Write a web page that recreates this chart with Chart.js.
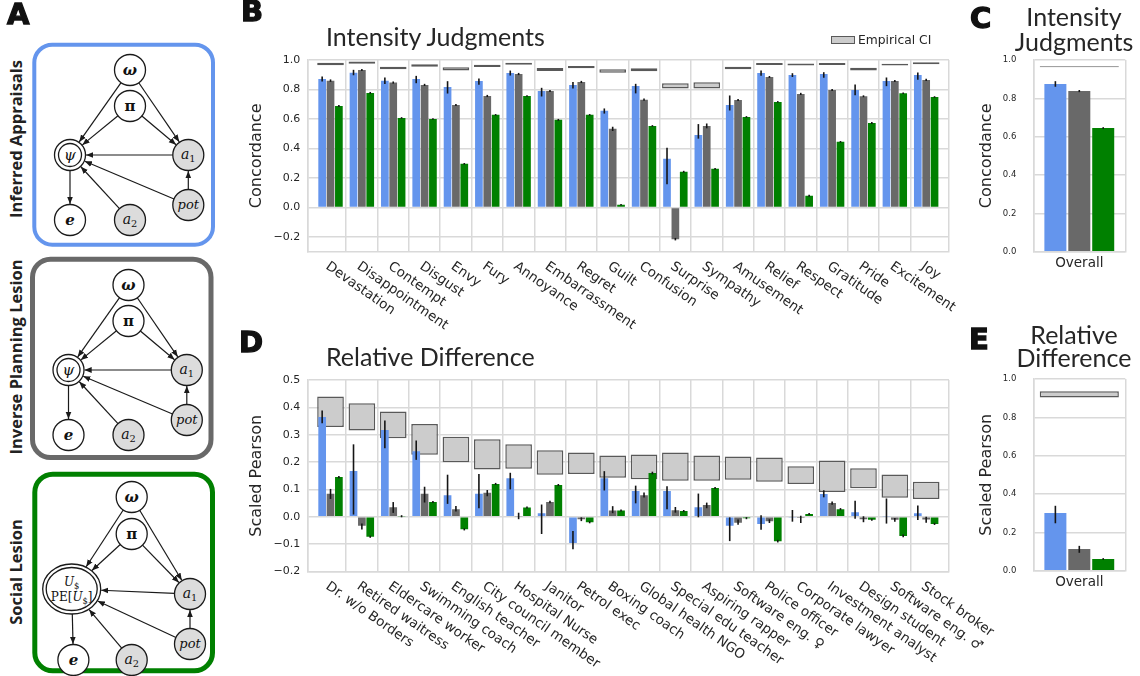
<!DOCTYPE html>
<html>
<head>
<meta charset="utf-8">
<script src="https://cdn.jsdelivr.net/npm/chart.js@4.4.1/dist/chart.umd.min.js"></script>
<style>
  body { margin: 0; background: #fff; }
  #page { position: relative; width: 1140px; height: 676px; overflow: hidden; color: #262626; font-family: "DejaVu Sans", sans-serif; }
  canvas, svg { position: absolute; left: 0; top: 0; }
  .letter { position: absolute; font: bold 29px "DejaVu Sans"; color: #111; line-height: 29px; -webkit-text-stroke: 1.3px #111; }
  .title { position: absolute; font: 400 25px Lato, sans-serif; color: #262626; white-space: nowrap; }
  .legend { position: absolute; left: 831px; top: 33px; font: 12.3px "DejaVu Sans"; color: #262626; display: flex; align-items: center; }
  .legend span.box { display: inline-block; width: 22px; height: 6px; background: #cccccc; border: 1.5px solid #595959; margin-right: 3px; }
</style>
</head>
<body>
<div id="page">
  <svg id="models" width="240" height="676"></svg>
  <canvas id="chartB" width="1140" height="676"></canvas>
  <canvas id="chartC" width="1140" height="676"></canvas>
  <canvas id="chartD" width="1140" height="676"></canvas>
  <canvas id="chartE" width="1140" height="676"></canvas>

  <div class="letter" style="left:7px; top:0px;">A</div>
  <div class="letter" style="left:241px; top:-3px;">B</div>
  <div class="letter" style="left:970px; top:4px;">C</div>
  <div class="letter" style="left:239px; top:328px;">D</div>
  <div class="letter" style="left:969px; top:325px;">E</div>

  <div class="title" style="left:326px; top:23.7px; line-height:25px;">Intensity Judgments</div>
  <div class="title" style="left:326px; top:343.7px; line-height:25px;">Relative Difference</div>
  <div class="title" style="left:1004px; top:4.2px; width:140px; text-align:center; line-height:24.7px;">Intensity<br>Judgments</div>
  <div class="title" style="left:1004px; top:323px; width:140px; text-align:center; line-height:22.5px;">Relative<br>Difference</div>

  <div class="legend"><span class="box"></span>Empirical CI</div>
</div>

<script>
// ---- data: intensity judgments (panel B / C) ----
const emotions = ["Devastation", "Disappointment", "Contempt", "Disgust", "Envy", "Fury",
  "Annoyance", "Embarrassment", "Regret", "Guilt", "Confusion", "Surprise", "Sympathy",
  "Amusement", "Relief", "Respect", "Gratitude", "Pride", "Excitement", "Joy"];

const intensityFull = [0.871, 0.914, 0.860, 0.871, 0.817, 0.858, 0.912, 0.790, 0.831, 0.655,
  0.824, 0.330, 0.492, 0.695, 0.912, 0.898, 0.905, 0.797, 0.858, 0.898];
const intensityInvPlan = [0.860, 0.932, 0.847, 0.831, 0.695, 0.756, 0.905, 0.790, 0.851, 0.533,
  0.731, -0.215, 0.553, 0.729, 0.885, 0.770, 0.797, 0.754, 0.858, 0.865];
const intensitySocial = [0.688, 0.777, 0.607, 0.600, 0.296, 0.628, 0.756, 0.594, 0.628, 0.018,
  0.553, 0.242, 0.262, 0.614, 0.716, 0.079, 0.445, 0.573, 0.774, 0.749];
const intensityCI = [[0.964, 0.982], [0.975, 0.989], [0.937, 0.955], [0.955, 0.971], [0.928, 0.950],
  [0.953, 0.968], [0.968, 0.982], [0.926, 0.946], [0.944, 0.959], [0.914, 0.937], [0.923, 0.944],
  [0.806, 0.842], [0.806, 0.849], [0.937, 0.955], [0.966, 0.980], [0.962, 0.977], [0.966, 0.980],
  [0.928, 0.948], [0.962, 0.975], [0.971, 0.984]];

const intensityFullErr = [[0.858, 0.884], [0.900, 0.930], [0.841, 0.878], [0.846, 0.889], [0.776, 0.853],
  [0.835, 0.871], [0.898, 0.925], [0.756, 0.808], [0.810, 0.848], [0.640, 0.668], [0.777, 0.835],
  [0.160, 0.402], [0.470, 0.562], [0.661, 0.756], [0.896, 0.925], [0.888, 0.907], [0.883, 0.914],
  [0.765, 0.831], [0.826, 0.878], [0.869, 0.912]];
const intensityInvPlanErr = [[0.855, 0.865], [0.929, 0.935], [0.843, 0.851], [0.827, 0.835], [0.691, 0.699],
  [0.752, 0.760], [0.901, 0.909], [0.786, 0.794], [0.847, 0.855], [0.522, 0.544], [0.727, 0.735],
  [-0.220, -0.210], [0.540, 0.566], [0.726, 0.732], [0.882, 0.888], [0.766, 0.774], [0.794, 0.800],
  [0.751, 0.757], [0.855, 0.861], [0.861, 0.869]];
const intensitySocialErr = [[0.685, 0.691], [0.774, 0.780], [0.605, 0.609], [0.598, 0.602], [0.294, 0.298],
  [0.626, 0.630], [0.754, 0.758], [0.591, 0.597], [0.626, 0.630], [0.016, 0.020], [0.551, 0.555],
  [0.239, 0.245], [0.259, 0.265], [0.612, 0.616], [0.714, 0.718], [0.076, 0.082], [0.443, 0.447],
  [0.570, 0.576], [0.772, 0.776], [0.747, 0.751]];

const overallLabels = ["Overall"];
const intensityOverall = [0.875, 0.838, 0.645];
const intensityOverallErr = [[0.863, 0.887], [0.835, 0.841], [0.643, 0.647]];
const intensityOverallCI = [0.962, 0.968];

// ---- data: relative difference (panel D / E) ----
const occupations = ["Dr. w/o Borders", "Retired waitress", "Eldercare worker", "Swimming coach",
  "English teacher", "City council member", "Hospital Nurse", "Janitor", "Petrol exec", "Boxing coach",
  "Global health NGO", "Special edu teacher", "Aspiring rapper", "Software eng. \u2640", "Police officer",
  "Corporate lawyer", "Investment analyst", "Design student", "Software eng. \u2642", "Stock broker"];

const relFull = [0.365, 0.167, 0.317, 0.240, 0.079, 0.084, 0.141, 0.013, -0.096, 0.141,
  0.094, 0.094, 0.035, -0.033, -0.026, -0.002, 0.083, 0.017, 0.002, 0.013];
const relInvPlan = [0.084, -0.033, 0.035, 0.084, 0.028, 0.088, 0.002, 0.054, -0.009, 0.023,
  0.079, 0.024, 0.043, -0.022, -0.016, -0.004, 0.050, -0.009, -0.011, -0.010];
const relSocial = [0.145, -0.073, 0.002, 0.054, -0.046, 0.120, 0.034, 0.116, -0.020, 0.023,
  0.160, 0.021, 0.105, -0.005, -0.089, 0.010, 0.028, -0.011, -0.070, -0.026];
const relCI = [[0.328, 0.440], [0.315, 0.415], [0.287, 0.385], [0.227, 0.339], [0.199, 0.293],
  [0.173, 0.283], [0.176, 0.265], [0.154, 0.243], [0.156, 0.235], [0.143, 0.224], [0.137, 0.228],
  [0.132, 0.235], [0.132, 0.224], [0.135, 0.220], [0.128, 0.217], [0.120, 0.185], [0.091, 0.206],
  [0.104, 0.177], [0.070, 0.155], [0.065, 0.128]];

const relFullErr = [[0.344, 0.387], [0.010, 0.263], [0.252, 0.350], [0.210, 0.277], [0.049, 0.152],
  [0.033, 0.155], [0.102, 0.159], [-0.061, 0.043], [-0.117, -0.054], [0.098, 0.165], [0.051, 0.112],
  [0.029, 0.110], [0.000, 0.083], [-0.087, -0.004], [-0.046, 0.004], [-0.016, 0.023], [0.073, 0.095],
  [-0.005, 0.057], [-0.023, 0.065], [-0.010, 0.039]];
const relInvPlanErr = [[0.067, 0.100], [-0.045, -0.026], [0.016, 0.052], [0.054, 0.108], [0.021, 0.038],
  [0.077, 0.096], [-0.007, 0.013], [0.051, 0.057], [-0.014, -0.004], [0.015, 0.037], [0.072, 0.087],
  [0.017, 0.034], [0.033, 0.050], [-0.027, -0.012], [-0.021, -0.011], [-0.021, 0.002], [0.046, 0.054],
  [-0.018, 0.000], [-0.016, -0.006], [-0.020, -0.002]];
const relSocialErr = [[0.143, 0.147], [-0.075, -0.071], [0.000, 0.004], [0.052, 0.056], [-0.048, -0.044],
  [0.118, 0.122], [0.032, 0.036], [0.114, 0.118], [-0.022, -0.018], [0.021, 0.025], [0.157, 0.163],
  [0.019, 0.023], [0.103, 0.107], [-0.007, -0.003], [-0.092, -0.086], [0.008, 0.012], [0.026, 0.030],
  [-0.013, -0.009], [-0.073, -0.067], [-0.028, -0.024]];

const relOverall = [0.301, 0.113, 0.061];
const relOverallErr = [[0.250, 0.336], [0.096, 0.127], [0.059, 0.063]];
const relOverallCI = [0.903, 0.936];

const yTicksB = [-0.2, 0.0, 0.2, 0.4, 0.6, 0.8, 1.0];
const yTicksD = [-0.2, -0.1, 0.0, 0.1, 0.2, 0.3, 0.4, 0.5];
const yTicksOverall = [0.0, 0.2, 0.4, 0.6, 0.8, 1.0];

// ---- styles ----
const BLUE = "#6495ED", GRAY = "#696969", GREEN = "#008000";
const GRID = "#d9d9d9";
const TEXT = "#262626";

const fmt = v => (v < 0 ? "\u2212" : "") + Math.abs(v).toFixed(1);

// error bars drawn on top of every bar that carries them
const errorBars = {
  id: "errorBars",
  afterDatasetsDraw(chart) {
    const ctx = chart.ctx, y = chart.scales.y;
    ctx.save();
    ctx.strokeStyle = "#151515";
    ctx.lineWidth = 1.6;
    chart.data.datasets.forEach((ds, di) => {
      if (!ds.errorBars) return;
      chart.getDatasetMeta(di).data.forEach((bar, i) => {
        const [lo, hi] = ds.errorBars[i];
        ctx.beginPath();
        ctx.moveTo(bar.x, y.getPixelForValue(lo) + 0.5);
        ctx.lineTo(bar.x, y.getPixelForValue(hi) - 0.5);
        ctx.stroke();
      });
    });
    ctx.restore();
  }
};

// rotated category labels hanging under the plot
const slantedLabels = {
  id: "slantedLabels",
  afterDraw(chart, args, opts) {
    if (!opts.labels) return;
    const {ctx, chartArea, scales} = chart;
    ctx.save();
    ctx.font = '13.5px "DejaVu Sans"';
    ctx.fillStyle = TEXT;
    ctx.textAlign = "left";
    ctx.textBaseline = "alphabetic";
    opts.labels.forEach((txt, i) => {
      const x = scales.x.getPixelForValue(i);
      ctx.save();
      ctx.translate(x - 5.6, chartArea.bottom + 16.4);
      ctx.rotate(35 * Math.PI / 180);
      ctx.fillText(txt, 0, 0);
      ctx.restore();
    });
    ctx.restore();
  }
};

function seriesSet(values, errs, color) {
  return {
    data: values.map((v, i) => ({x: i, y: v})),
    errorBars: errs,
    backgroundColor: color,
    borderWidth: 0,
    categoryPercentage: 0.8,
    barPercentage: 0.92,
    order: 0
  };
}

function ciSet(ranges) {
  return {
    data: ranges.map((r, i) => ({x: i, y: r})),
    backgroundColor: "#cccccc",
    borderColor: "#595959",
    borderWidth: 1.5,
    borderSkipped: false,
    grouped: false,
    categoryPercentage: 0.85,
    barPercentage: 1,
    order: 5
  };
}

function yAxis(min, max, ticks, title, width, tickFont, tickPad) {
  return {
    min: min, max: max,
    afterBuildTicks: s => { s.ticks = ticks.map(v => ({value: v})); },
    afterFit: s => { s.width = width; },
    ticks: {callback: v => fmt(v), font: {family: "DejaVu Sans", size: tickFont}, color: TEXT, padding: tickPad},
    grid: {color: GRID, lineWidth: 1.5, drawTicks: false},
    border: {color: GRID, width: 1.5},
    title: {display: true, text: title, font: {family: "DejaVu Sans", size: 16}, color: TEXT, padding: 0}
  };
}

// wide per-category panel (B and D)
function wideChart(id, labels, series, ci, yMin, yMax, yTicks, yTitle, top, bottom) {
  const xMin = -0.728, xMax = labels.length - 1 + 0.728;
  const bounds = [xMin];
  for (let i = 0; i < labels.length - 1; i++) bounds.push(i + 0.5);
  bounds.push(xMax);
  return new Chart(document.getElementById(id), {
    type: "bar",
    data: {
      datasets: [
        seriesSet(series[0][0], series[0][1], BLUE),
        seriesSet(series[1][0], series[1][1], GRAY),
        seriesSet(series[2][0], series[2][1], GREEN),
        ciSet(ci)
      ]
    },
    options: {
      responsive: false,
      animation: false,
      layout: {padding: {left: 307.7 - 60, right: 1140 - 949, top: top, bottom: 676 - bottom}},
      plugins: {legend: {display: false}, tooltip: {enabled: false}, slantedLabels: {labels: labels}},
      scales: {
        x: {
          type: "linear", min: xMin, max: xMax, offset: false,
          afterBuildTicks: s => { s.ticks = bounds.map(v => ({value: v})); },
          afterFit: s => { s.height = 0; },
          ticks: {display: false},
          grid: {color: GRID, lineWidth: 1.5, drawTicks: false, offset: false},
          border: {color: GRID, width: 1.5}
        },
        y: yAxis(yMin, yMax, yTicks, yTitle, 60, 11, 7.5)
      }
    },
    plugins: [errorBars, slantedLabels]
  });
}

// single "Overall" panel (C and E)
function overallChart(id, values, errs, ci, yTitle, top, bottom) {
  const colors = [BLUE, GRAY, GREEN];
  const sets = values.map((v, k) => ({
    data: [v], errorBars: [errs[k]], backgroundColor: colors[k], borderWidth: 0,
    categoryPercentage: 0.78, barPercentage: 0.92, order: 0
  }));
  sets.push({
    data: [ci], backgroundColor: "#cccccc", borderColor: "#595959", borderWidth: 1.5,
    borderSkipped: false, grouped: false, categoryPercentage: 0.86, barPercentage: 1, order: 5
  });
  return new Chart(document.getElementById(id), {
    type: "bar",
    data: {labels: overallLabels, datasets: sets},
    options: {
      responsive: false,
      animation: false,
      layout: {padding: {left: 1033.3 - 56.3, right: 1140 - 1125.3, top: top, bottom: 676 - bottom - 30}},
      plugins: {legend: {display: false}, tooltip: {enabled: false}},
      scales: {
        x: {
          afterFit: s => { s.height = 30; },
          ticks: {font: {family: "DejaVu Sans", size: 13.5}, color: TEXT, padding: 4},
          grid: {color: GRID, lineWidth: 1.5, drawTicks: false},
          border: {color: GRID, width: 1.5}
        },
        y: yAxis(0, 1, yTicksOverall, yTitle, 56.3, 8.5, 17)
      }
    },
    plugins: [errorBars]
  });
}

wideChart("chartB", emotions,
  [[intensityFull, intensityFullErr], [intensityInvPlan, intensityInvPlanErr], [intensitySocial, intensitySocialErr]],
  intensityCI, -0.3, 1.0, yTicksB, "Concordance", 60, 251.7);

wideChart("chartD", occupations,
  [[relFull, relFullErr], [relInvPlan, relInvPlanErr], [relSocial, relSocialErr]],
  relCI, -0.2, 0.5, yTicksD, "Scaled Pearson", 380, 571.5);

overallChart("chartC", intensityOverall, intensityOverallErr, intensityOverallCI, "Concordance", 60, 251.7);
overallChart("chartE", relOverall, relOverallErr, relOverallCI, "Scaled Pearson", 379, 570.7);

// ---- panel A: graphical models ----
const NS = "http://www.w3.org/2000/svg";
const svg = document.getElementById("models");
function el(tag, attrs, parent) {
  const e = document.createElementNS(NS, tag);
  for (const k in attrs) e.setAttribute(k, attrs[k]);
  (parent || svg).appendChild(e);
  return e;
}
const defs = el("defs", {});
const mk = el("marker", {id: "ah", viewBox: "0 0 10 10", refX: "10", refY: "5",
  markerWidth: "6", markerHeight: "6", orient: "auto"}, defs);
el("path", {d: "M0,1 L10,5 L0,9 z", fill: "#1a1a1a"}, mk);

function label(x, y, parts, size) {
  const t = el("text", {x: x, y: y + size * 0.33, "text-anchor": "middle",
    "font-family": "DejaVu Serif, Liberation Serif, serif", "font-size": size, fill: "#111"});
  parts.forEach(p => {
    const s = el("tspan", {fill: "#111"}, t);
    if (p.italic) s.setAttribute("font-style", "italic");
    if (p.bold) s.setAttribute("font-weight", "bold");
    if (p.sub) { s.setAttribute("font-size", size * 0.7); s.setAttribute("dy", size * 0.25); }
    if (p.up) s.setAttribute("dy", -size * 0.25);
    s.textContent = p.t;
  });
  return t;
}

function model(o, box, centerKind) {
  el("rect", {x: box.x, y: box.y, width: box.w, height: box.h, rx: 18, fill: "#fff",
    stroke: box.color, "stroke-width": box.sw});
  const R = 15.5;
  const N = {
    w: {x: o.x + 130, y: o.y + 70}, p: {x: o.x + 130, y: o.y + 106},
    c: {x: o.x + 70, y: o.y + 155}, a1: {x: o.x + 188.3, y: o.y + 155},
    pot: {x: o.x + 188.3, y: o.y + 205}, e: {x: o.x + 70, y: o.y + 220},
    a2: {x: o.x + 130, y: o.y + 220}
  };
  const big = centerKind === "social";
  if (big) { N.c = {x: o.x + 70, y: o.y + 163}; N.a1.y = o.y + 168; N.pot.y = o.y + 218;
    N.e = {x: o.x + 71.7, y: o.y + 234}; N.a2.y = o.y + 234; N.p.y = o.y + 108; N.w.y = o.y + 71; }
  const rad = (n, ux, uy) => {
    if (n === N.c && big) return 1 / Math.sqrt((ux / 29) ** 2 + (uy / 25) ** 2);
    return R;
  };
  const edges = [["w", "c"], ["w", "a1"], ["p", "c"], ["p", "a1"], ["a1", "c"],
    ["pot", "c"], ["pot", "a1"], ["a2", "c"], ["c", "e"]];
  edges.forEach(([a, b]) => {
    const A = N[a], B = N[b];
    const dx = B.x - A.x, dy = B.y - A.y, d = Math.hypot(dx, dy), ux = dx / d, uy = dy / d;
    const ra = rad(A, ux, uy), rb = rad(B, ux, uy);
    el("line", {x1: A.x + ux * ra, y1: A.y + uy * ra, x2: B.x - ux * (rb + 0.5), y2: B.y - uy * (rb + 0.5),
      stroke: "#1a1a1a", "stroke-width": 1.2, "marker-end": "url(#ah)"});
  });
  const circ = (n, fill) => el("circle", {cx: n.x, cy: n.y, r: R, fill: fill, stroke: "#1a1a1a", "stroke-width": 1.3});
  circ(N.w, "#fff"); circ(N.p, "#fff"); circ(N.e, "#fff");
  circ(N.a1, "#dcdcdc"); circ(N.a2, "#dcdcdc"); circ(N.pot, "#dcdcdc");
  if (big) {
    el("ellipse", {cx: N.c.x, cy: N.c.y, rx: 29, ry: 25, fill: "#fff", stroke: "#1a1a1a", "stroke-width": 1.3});
    el("ellipse", {cx: N.c.x, cy: N.c.y, rx: 25.5, ry: 21.5, fill: "#fff", stroke: "#1a1a1a", "stroke-width": 1.3});
    label(N.c.x, N.c.y - 7, [{t: "U", italic: true}, {t: "$", sub: true}], 12);
    label(N.c.x, N.c.y + 8, [{t: "PE["}, {t: "U", italic: true}, {t: "$", sub: true}, {t: "]", up: true}], 12);
  } else {
    circ(N.c, "#fff");
    el("circle", {cx: N.c.x, cy: N.c.y, r: 11.5, fill: "#fff", stroke: "#1a1a1a", "stroke-width": 1.3});
    label(N.c.x, N.c.y, [{t: "\u03C8", italic: true}], 15);
  }
  label(N.w.x, N.w.y, [{t: "\u03C9", italic: true, bold: true}], 15);
  label(N.p.x, N.p.y, [{t: "\u03C0", bold: true}], 15);
  label(N.e.x, N.e.y, [{t: "e", italic: true, bold: true}], 15);
  label(N.a1.x, N.a1.y - 1, [{t: "a", italic: true}, {t: "1", sub: true}], 14);
  label(N.a2.x, N.a2.y - 1, [{t: "a", italic: true}, {t: "2", sub: true}], 14);
  label(N.pot.x, N.pot.y, [{t: "pot", italic: true}], 13);
}

model({x: 0, y: 0}, {x: 34.3, y: 44.7, w: 178.7, h: 200, color: BLUE, sw: 4});
model({x: -1.5, y: 215}, {x: 32.5, y: 259.2, w: 178.5, h: 198.3, color: GRAY, sw: 5});
model({x: 1.7, y: 426}, {x: 34.8, y: 474.2, w: 177.7, h: 196.6, color: GREEN, sw: 5}, "social");

[["Inferred Appraisals", 139], ["Inverse Planning Lesion", 357], ["Social Lesion", 572]].forEach(([t, cy]) => {
  const tx = el("text", {x: 0, y: 0, "text-anchor": "middle", "font-family": "Open Sans, Lato, sans-serif",
    "font-weight": "bold", "font-size": 16.5, fill: "#222",
    transform: `translate(21.5, ${cy}) rotate(-90)`});
  tx.textContent = t;
});
</script>
</body>
</html>
